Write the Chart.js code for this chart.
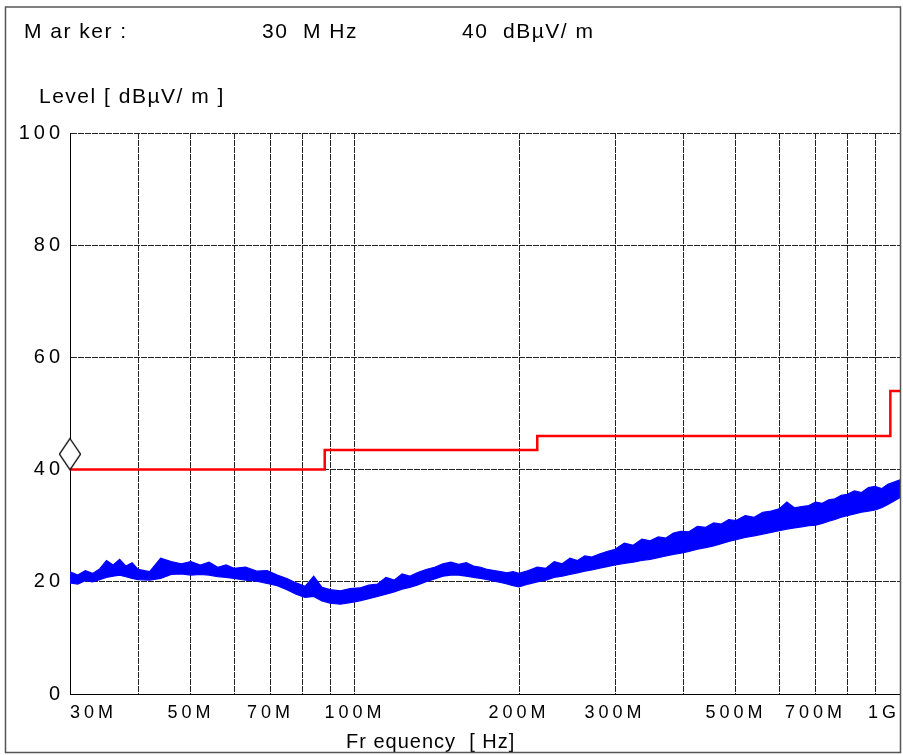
<!DOCTYPE html>
<html>
<head>
<meta charset="utf-8">
<title>Level vs Frequency</title>
<script src="https://cdn.jsdelivr.net/npm/chart.js@4.4.1/dist/chart.umd.min.js"></script>
<style>
  html, body { margin: 0; padding: 0; background: #fff; }
  canvas { display: block; }
</style>
</head>
<body>
<canvas id="chart" width="903" height="755"></canvas>
<script>
// ── Data ───────────────────────────────────────────────────────
// x-axis grid frequencies (MHz) and which of them carry a label
const gridFreqs = [30, 40, 50, 60, 70, 80, 90, 100, 200, 300, 400, 500, 600, 700, 800, 900, 1000];
const labelFreqs = [30, 50, 70, 100, 200, 300, 500, 700, 1000];
const labelTexts = ['30M', '50M', '70M', '100M', '200M', '300M', '500M', '700M', '1G'];
const yTicks = [0, 20, 40, 60, 80, 100];

// limit line (red, stepped)
const limitFreq = [30, 88, 216, 960, 1000];
const limitLevel = [40, 43.5, 46, 54, 54];

// marker
const markerFreq = 30;
const markerLevel = 40;

// measured trace (blue), read as upper / lower edge of the noise band
const traceFreq = [
  30, 31, 32, 33, 34, 35, 36, 37, 38, 39, 40,
  42, 44, 46, 48, 50, 52, 54, 56, 58, 60,
  63, 66, 69, 72, 75, 78, 81, 84, 87, 90,
  94, 98, 102, 106, 110, 114, 118, 122, 126, 130,
  135, 140, 145, 150, 155, 160, 165, 170, 175, 180, 185, 190, 195, 200,
  208, 216, 224, 232, 240, 248, 256, 264, 272, 280,
  290, 300,
  312, 324, 336, 348, 360, 372, 384, 396,
  410, 425, 440, 455, 470, 485, 500,
  520, 540, 560, 580, 600, 620, 640, 660, 680, 700, 720, 740, 760, 780, 800,
  825, 850, 875, 900, 925, 950, 975, 1000
];
const traceHigh = [
  21.8, 21.2, 22.0, 21.5, 22.3, 23.8, 23.0, 24.0, 22.8, 23.4, 22.2,
  21.8, 24.2, 23.6, 23.2, 23.6, 23.0, 23.5, 22.6, 23.0, 22.4,
  22.6, 21.9, 22.0, 21.2, 20.6, 19.8, 19.2, 21.0, 19.0, 18.6,
  18.4, 18.8, 18.9, 19.4, 19.6, 20.8, 20.3, 21.4, 21.0, 21.6,
  22.2, 22.6, 23.2, 23.5, 23.1, 23.4, 22.8, 22.6, 22.2, 22.0, 21.8, 21.6, 21.8, 21.5,
  22.0, 22.6, 22.4, 23.6, 23.2, 24.2, 23.8, 24.6, 24.4, 24.9,
  25.4, 25.8,
  26.9, 26.5, 27.6, 27.3, 28.0, 27.8, 28.7, 29.0,
  28.9, 29.9, 29.7, 30.5, 30.3, 31.1, 30.9,
  31.8, 31.5, 32.4, 32.6, 33.0, 34.2, 33.2, 33.4, 33.6, 34.2, 34.0, 34.6, 34.8, 35.4, 35.6,
  36.2, 35.9, 36.8, 37.0, 36.6, 37.4, 37.8, 38.2
];
const traceLow = [
  19.8, 19.6, 20.2, 20.0, 20.4, 20.8, 21.0, 21.2, 20.9, 20.6, 20.4,
  20.3, 20.6, 21.3, 21.4, 21.2, 21.3, 21.2, 20.9, 20.8, 20.6,
  20.3, 20.1, 19.7, 19.3, 18.6, 17.8, 17.2, 17.4, 16.6, 16.2,
  16.0, 16.3, 16.6, 17.0, 17.4, 17.8, 18.2, 18.7, 19.0, 19.4,
  20.0, 20.5, 21.0, 21.2, 21.2, 21.0, 20.8, 20.6, 20.4, 20.1, 19.9, 19.6, 19.3, 19.1,
  19.6, 20.0, 20.3, 20.8, 21.0, 21.3, 21.6, 21.9, 22.1, 22.4,
  22.7, 23.0,
  23.3, 23.5, 23.8, 24.0, 24.3, 24.6, 24.9, 25.1,
  25.4, 25.8, 26.1, 26.4, 26.8, 27.2, 27.5,
  27.9, 28.2, 28.5, 28.8, 29.1, 29.4, 29.6, 29.8, 30.0, 30.1, 30.4, 30.8, 31.1, 31.5, 31.8,
  32.1, 32.4, 32.6, 32.8, 33.2, 33.8, 34.4, 35.0
];

// ── Helpers ────────────────────────────────────────────────────
const FONT = '"Liberation Sans", Arial, sans-serif';

function pairs(xs, ys) {
  return xs.map((x, i) => ({ x: x, y: ys[i] }));
}

function freqLabel(v) {
  const i = labelFreqs.indexOf(Math.round(v));
  return i >= 0 ? labelTexts[i] : '';
}

// tall diamond, bottom vertex sits on the data point
function diamondMarker() {
  const c = document.createElement('canvas');
  c.width = 22;
  c.height = 66;
  const g = c.getContext('2d');
  g.fillStyle = '#fff';
  g.strokeStyle = '#000';
  g.lineWidth = 1.3;
  g.beginPath();
  g.moveTo(11, 2);
  g.lineTo(21.5, 17.5);
  g.lineTo(11, 33);
  g.lineTo(0.5, 17.5);
  g.closePath();
  g.fill();
  g.stroke();
  return c;
}

// ── Frame + header texts ───────────────────────────────────────
const frameAndText = {
  id: 'frameAndText',
  beforeDraw(chart) {
    const ctx = chart.ctx;
    ctx.save();
    ctx.fillStyle = '#fff';
    ctx.fillRect(0, 0, chart.width, chart.height);
    ctx.restore();
    ctx.letterSpacing = '4px'; // wide tick labels
  },
  afterDraw(chart) {
    const ctx = chart.ctx;
    ctx.save();
    ctx.fillStyle = '#000';
    ctx.textAlign = 'left';
    ctx.textBaseline = 'alphabetic';
    ctx.letterSpacing = '1.5px';
    ctx.font = '21px ' + FONT;
    ctx.fillText('M ar ker :', 24, 38);
    ctx.fillText('30  M Hz', 262, 38);
    ctx.fillText('40  dBµV/ m', 462, 38);
    ctx.fillText('Level [ dBµV/ m ]', 39, 103);
    ctx.letterSpacing = '1px';
    ctx.font = '20px ' + FONT;
    ctx.fillText('Fr equency  [ Hz]', 346, 748);

    ctx.strokeStyle = '#555';
    ctx.lineWidth = 1.5;
    ctx.strokeRect(5.5, 7, 895, 745.5);
    ctx.restore();
  }
};

// ── Chart ──────────────────────────────────────────────────────
Chart.defaults.font.family = FONT;
Chart.defaults.color = '#000';

new Chart(document.getElementById('chart').getContext('2d'), {
  type: 'line',
  data: {
    datasets: [
      {
        label: 'Marker',
        data: [{ x: markerFreq, y: markerLevel }],
        pointStyle: diamondMarker(),
        pointRadius: 10,
        showLine: false,
        clip: false,
        order: 0
      },
      {
        label: 'Limit',
        data: pairs(limitFreq, limitLevel),
        borderColor: '#ff0000',
        borderWidth: 2.5,
        stepped: true,
        pointRadius: 0,
        fill: false,
        order: 1
      },
      {
        label: 'Level low',
        data: pairs(traceFreq, traceLow),
        borderColor: '#0000ff',
        borderWidth: 1.2,
        pointRadius: 0,
        fill: false,
        order: 2
      },
      {
        label: 'Level high',
        data: pairs(traceFreq, traceHigh),
        borderColor: '#0000ff',
        backgroundColor: '#0000ff',
        borderWidth: 1.2,
        pointRadius: 0,
        fill: '-1',
        order: 3
      }
    ]
  },
  options: {
    responsive: false,
    animation: false,
    devicePixelRatio: 1,
    layout: { autoPadding: false, padding: { left: 5, right: 3, top: 133, bottom: 0 } },
    plugins: {
      legend: { display: false },
      tooltip: { enabled: false }
    },
    elements: { line: { tension: 0 } },
    scales: {
      x: {
        type: 'logarithmic',
        min: 30,
        max: 1000,
        afterBuildTicks: s => { s.ticks = gridFreqs.map(v => ({ value: v })); },
        afterFit: s => {
          s.height = 61;
          s.paddingLeft = 0;
          s.paddingRight = 0;
        },
        ticks: {
          autoSkip: false,
          maxRotation: 0,
          minRotation: 0,
          align: 'inner',
          padding: 8,
          font: { size: 18 },
          callback: v => freqLabel(v)
        },
        grid: { color: '#222', lineWidth: 1, drawTicks: false },
        border: { display: true, color: '#000', width: 1, dash: [6, 1] }
      },
      y: {
        min: 0,
        max: 100,
        afterBuildTicks: s => { s.ticks = yTicks.map(v => ({ value: v })); },
        afterFit: s => { s.width = 65; },
        ticks: { padding: 6, font: { size: 20 } },
        grid: { color: '#222', lineWidth: 1, drawTicks: false },
        border: { display: true, color: '#000', width: 1, dash: [6, 1] }
      }
    }
  },
  plugins: [frameAndText]
});
</script>
</body>
</html>
